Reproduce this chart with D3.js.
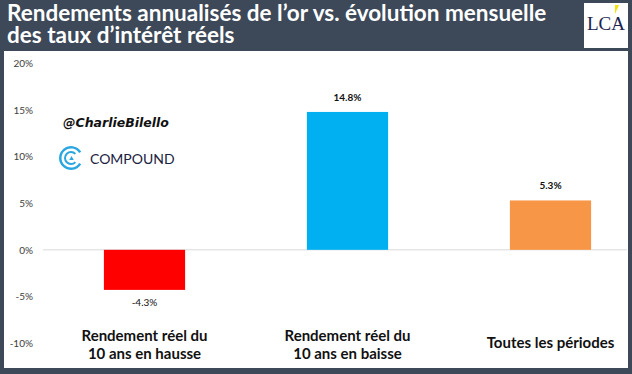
<!DOCTYPE html>
<head>
<style>
  body { margin: 0; background: #3d4858; }
  svg { display: block; }
</style>
</head>
<body>
<div id="chart_container"></div>
<script src="https://cdn.jsdelivr.net/npm/d3@7"></script>
<script>

const categories = [['Rendement réel du', '10 ans en hausse'], ['Rendement réel du', '10 ans en baisse'], ['Toutes les périodes']]
const values = [-4.3, 14.8, 5.3]
const barColors = ['#ff0000', '#00b0f0', '#f79646']
const yTicks = [-10, -5, 0, 5, 10, 15, 20]
const titleLines = ['Rendements annualisés de l\u2019or vs. évolution mensuelle', 'des taux d\u2019intérêt réels']

const width = 632
const height = 374

const svg = d3.select('#chart_container')
              .append('svg')
              .attr('width', width)
              .attr('height', height)

// background + white panel
svg.append('rect').attr('width', width).attr('height', height).attr('fill', '#3d4858')
svg.append('rect').attr('x', 4).attr('y', 51).attr('width', 624).attr('height', 317).attr('fill', '#fff')

// title (one text, two lines)
svg.append('text')
   .attr('x', 7)
   .attr('y', 21)
   .attr('fill', '#fff')
   .style('font-family', 'Lato')
   .style('font-weight', 'bold')
   .style('font-size', '22.5px')
   .selectAll('tspan')
   .data(titleLines)
   .enter()
   .append('tspan')
   .attr('x', 7)
   .attr('dy', (d, i) => i === 0 ? 0 : 22)
   .text(d => d)

// LCA logo box
const logo = svg.append('g')
logo.append('rect').attr('x', 584).attr('y', 3).attr('width', 44).attr('height', 45).attr('fill', '#fff')
logo.append('path').attr('d', 'M615,5 L619,5 L615,14 Z').attr('fill', '#f5e200')
logo.append('text')
    .attr('x', 606).attr('y', 30)
    .attr('text-anchor', 'middle')
    .attr('fill', '#1c2450')
    .style('font-family', 'Liberation Serif')
    .style('font-size', '19px')
    .text('LCA')

const yScale = d3.scaleLinear().domain([-10, 20]).range([343, 63.5])
const xScale = d3.scaleBand()
                 .domain(d3.range(values.length))
                 .range([43, 652])
                 .paddingInner(0.6)
                 .paddingOuter(0.3)

// y axis labels
const yAxis = d3.axisLeft(yScale)
                .tickValues(yTicks)
                .tickFormat(d => d + '%')
                .tickSize(0)
                .tickPadding(0)

svg.append('g')
   .attr('transform', 'translate(33, 0)')
   .call(yAxis)
   .call(g => g.select('.domain').remove())
   .call(g => g.selectAll('text')
               .attr('fill', '#404040')
               .style('font-family', 'Lato')
               .style('font-size', '10px'))

// zero line
svg.append('line')
   .attr('x1', 43).attr('x2', 627)
   .attr('y1', yScale(0)).attr('y2', yScale(0))
   .attr('stroke', '#d9d9d9')
   .attr('stroke-width', 1)

// watermark
svg.append('text')
   .attr('x', 63).attr('y', 127)
   .attr('fill', '#111')
   .style('font-family', 'DejaVu Sans')
   .style('font-weight', 'bold')
   .style('font-style', 'italic')
   .style('font-size', '12.5px')
   .text('@CharlieBilello')

const comp = svg.append('g').attr('transform', 'translate(71, 158)')
comp.append('path')
    .attr('d', d3.arc()({ innerRadius: 9.5, outerRadius: 12, startAngle: Math.PI / 2 + 0.55, endAngle: Math.PI * 2.5 - 0.55 }))
    .attr('fill', '#2aa7e0')
comp.append('path')
    .attr('d', d3.arc()({ innerRadius: 5, outerRadius: 7, startAngle: Math.PI / 2 + 0.75, endAngle: Math.PI * 2.5 - 0.75 }))
    .attr('fill', '#2aa7e0')
comp.append('path').attr('d', 'M0.5,-2 L2.8,2 L-1.8,2 Z').attr('fill', '#2aa7e0')
comp.append('text')
    .attr('x', 19).attr('y', 5.5)
    .attr('fill', '#1a2240')
    .style('font-family', 'Lato')
    .style('font-size', '14px')
    .text('COMPOUND')

// bars
svg.append('g')
   .selectAll('rect')
   .data(values)
   .enter()
   .append('rect')
   .attr('x', (d, i) => xScale(i))
   .attr('y', d => yScale(Math.max(0, d)))
   .attr('width', xScale.bandwidth())
   .attr('height', d => Math.abs(yScale(d) - yScale(0)))
   .attr('fill', (d, i) => barColors[i])

// value labels
svg.append('g')
   .selectAll('text')
   .data(values)
   .enter()
   .append('text')
   .attr('x', (d, i) => xScale(i) + xScale.bandwidth() / 2)
   .attr('y', d => d >= 0 ? yScale(d) - 11 : yScale(d) + 16)
   .attr('text-anchor', 'middle')
   .attr('fill', '#111')
   .style('font-family', 'Lato')
   .style('font-weight', d => d >= 0 ? 'bold' : 'normal')
   .style('font-size', '10px')
   .text(d => d.toFixed(1) + '%')

// category labels
const cat = svg.append('g')
               .selectAll('text')
               .data(categories)
               .enter()
               .append('text')
               .attr('x', (d, i) => xScale(i) + xScale.bandwidth() / 2)
               .attr('y', d => d.length > 1 ? 341 : 348)
               .attr('text-anchor', 'middle')
               .attr('fill', '#111')
               .style('font-family', 'Lato')
               .style('font-weight', 'bold')
               .style('font-size', '15px')

cat.selectAll('tspan')
   .data(d => d)
   .enter()
   .append('tspan')
   .attr('x', function () { return this.parentNode.getAttribute('x') })
   .attr('dy', (d, i) => i === 0 ? 0 : 18)
   .text(d => d)

</script>
</body>
